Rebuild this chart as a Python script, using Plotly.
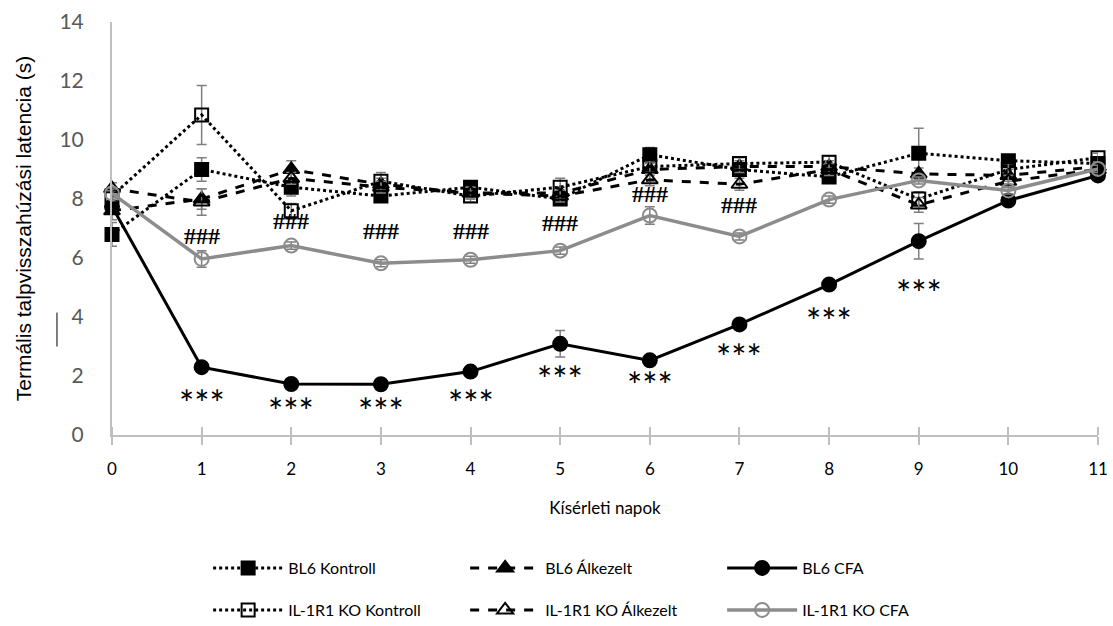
import plotly.graph_objects as go

# Experimental days
days = list(range(12))
day_labels = [str(d) for d in days]

# Thermal paw-withdrawal latency (s), mean and SEM per group
bl6_kontroll = [6.8, 9.0, 8.4, 8.1, 8.4, 8.0, 9.5, 9.0, 8.75, 9.55, 9.3, 9.2]
bl6_kontroll_err = [0.4, 0.4, 0.3, 0.2, 0.2, 0.2, 0.25, 0.2, 0.2, 0.85, 0.2, 0.15]

bl6_alkezelt = [7.6, 8.0, 9.0, 8.5, 8.2, 8.2, 9.0, 9.1, 9.1, 8.85, 8.8, 9.1]
bl6_alkezelt_err = [0.3, 0.35, 0.3, 0.2, 0.2, 0.2, 0.2, 0.2, 0.2, 0.2, 0.2, 0.15]

bl6_cfa = [7.75, 2.3, 1.73, 1.72, 2.15, 3.09, 2.53, 3.75, 5.1, 6.57, 7.95, 8.8]
bl6_cfa_err = [0.15, 0.12, 0.1, 0.1, 0.12, 0.45, 0.1, 0.12, 0.12, 0.6, 0.15, 0.15]

ko_kontroll = [8.1, 10.85, 7.6, 8.6, 8.1, 8.4, 9.1, 9.2, 9.25, 8.0, 9.0, 9.4]
ko_kontroll_err = [0.2, 1.0, 0.25, 0.3, 0.2, 0.3, 0.2, 0.2, 0.2, 0.25, 0.2, 0.15]

ko_alkezelt = [8.35, 7.9, 8.7, 8.4, 8.2, 8.1, 8.65, 8.5, 9.0, 7.8, 8.6, 9.0]
ko_alkezelt_err = [0.2, 0.45, 0.2, 0.2, 0.2, 0.2, 0.2, 0.2, 0.2, 0.25, 0.2, 0.15]

ko_cfa = [8.19, 5.97, 6.42, 5.82, 5.94, 6.25, 7.44, 6.73, 7.98, 8.63, 8.29, 9.02]
ko_cfa_err = [0.15, 0.28, 0.12, 0.12, 0.12, 0.12, 0.3, 0.12, 0.12, 0.12, 0.12, 0.12]

# Significance marks: BL6 CFA vs controls (***), IL-1R1 KO CFA vs controls (###)
stars_days = [1, 2, 3, 4, 5, 6, 7, 8, 9]
stars_text = "***"
hash_days = [1, 2, 3, 4, 5, 6, 7]
hash_text = "###"

# Vertical placement of the marks relative to their series (axis units)
stars_gap = [1.22, 0.92, 0.92, 1.05, 1.19, 0.85, 1.12, 1.22, 1.77]
hash_gap = [0.79, 0.85, 1.08, 0.96, 0.95, 0.74, 1.05]

BLACK = "#000000"
GRAY = "#8c8c8c"
ERR = "#7f7f7f"
AXIS = "#bfbfbf"


def err(vals):
    return dict(type="data", array=vals, visible=True, color=ERR, thickness=1.5, width=5)


series = [
    dict(name="BL6 Kontroll", y=bl6_kontroll, e=bl6_kontroll_err, color=BLACK, dash="dot",
         symbol="square", size=13, width=3, legend="legend"),
    dict(name="BL6 Álkezelt", y=bl6_alkezelt, e=bl6_alkezelt_err, color=BLACK, dash="dash",
         symbol="triangle-up", size=14, width=3, legend="legend"),
    dict(name="BL6 CFA", y=bl6_cfa, e=bl6_cfa_err, color=BLACK, dash="solid",
         symbol="circle", size=14, width=3, legend="legend"),
    dict(name="IL-1R1 KO Kontroll", y=ko_kontroll, e=ko_kontroll_err, color=BLACK, dash="dot",
         symbol="square-open", size=13, width=3, legend="legend2"),
    dict(name="IL-1R1 KO Álkezelt", y=ko_alkezelt, e=ko_alkezelt_err, color=BLACK, dash="dash",
         symbol="triangle-up-open", size=14, width=3, legend="legend2"),
    dict(name="IL-1R1 KO CFA", y=ko_cfa, e=ko_cfa_err, color=GRAY, dash="solid",
         symbol="circle-open", size=14, width=3.5, legend="legend2"),
]

fig = go.Figure()
for s in series:
    fig.add_trace(go.Scatter(
        x=days, y=s["y"], name=s["name"], mode="lines+markers",
        line=dict(color=s["color"], width=s["width"], dash=s["dash"]),
        marker=dict(symbol=s["symbol"], size=s["size"], color=s["color"],
                    line=dict(color=s["color"], width=2)),
        error_y=err(s["e"]), cliponaxis=False, legend=s["legend"],
    ))

annotations = []
for d, g in zip(stars_days, stars_gap):
    annotations.append(dict(
        x=d, y=bl6_cfa[d] - g, text=stars_text, showarrow=False,
        font=dict(family="Lato", size=36, color=BLACK), xanchor="center", yanchor="middle"))
for d, g in zip(hash_days, hash_gap):
    annotations.append(dict(
        x=d, y=ko_cfa[d] + g, text="<b>" + hash_text + "</b>", showarrow=False,
        font=dict(family="Liberation Serif", size=24, color=BLACK),
        xanchor="center", yanchor="middle"))

legend_common = dict(orientation="h", xref="container", yref="container",
                     xanchor="left", yanchor="middle",
                     entrywidth=172, entrywidthmode="pixels", itemwidth=70,
                     font=dict(family="Lato", size=16, color=BLACK), traceorder="normal",
                     bgcolor="rgba(0,0,0,0)")

fig.update_layout(
    width=1113, height=626,
    margin=dict(l=112, r=15, t=22, b=191, autoexpand=False),
    paper_bgcolor="white", plot_bgcolor="white",
    font=dict(family="Lato", color=BLACK),
    annotations=annotations,
    shapes=[dict(type="line", xref="paper", yref="y", x0=-0.0558, x1=-0.0558, y0=3.0, y1=4.15,
                 line=dict(color=BLACK, width=1))],
    legend=dict(x=0.187, y=1 - 568 / 626, **legend_common),
    legend2=dict(x=0.187, y=1 - 610 / 626, **legend_common),
)

fig.update_xaxes(
    range=[0, 11], tickmode="array", tickvals=days, ticktext=day_labels,
    showline=True, linecolor=AXIS, linewidth=2, showgrid=False, zeroline=False,
    ticks="outside", ticklen=8, tickcolor=AXIS, tickwidth=2,
    minor=dict(ticks="inside", ticklen=8, tickcolor=AXIS, tickwidth=2, dtick=1, tick0=0),
    tickfont=dict(family="Lato", size=17, color=BLACK), ticklabelstandoff=10,
    title=dict(text="Kísérleti napok", font=dict(family="Lato", size=17, color=BLACK), standoff=24),
)
fig.update_yaxes(
    range=[0, 14], tickmode="linear", tick0=0, dtick=2,
    showline=True, linecolor=AXIS, linewidth=2, showgrid=False, zeroline=False,
    ticks="", tickfont=dict(family="Lato", size=21, color="#595959"), ticklabelstandoff=22,
    title=dict(text="Termális talpvisszahúzási latencia (s)",
               font=dict(family="Liberation Sans", size=21, color=BLACK), standoff=22),
)

fig.write_html("out.html")
